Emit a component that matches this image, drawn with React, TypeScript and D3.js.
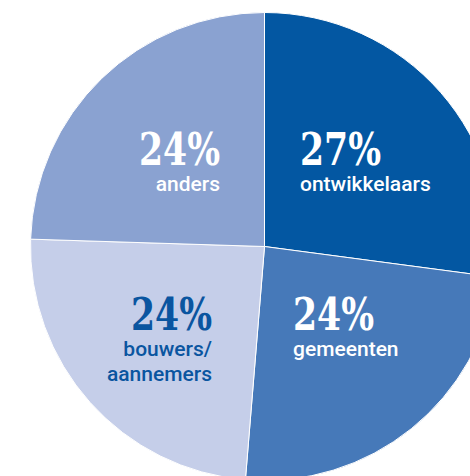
import React from "react";
import * as d3 from "d3";

const categories = ["ontwikkelaars", "gemeenten", "bouwers/aannemers", "anders"];
const values = [27.1, 24.2, 24.2, 24.5];
const percentLabels = ["27%", "24%", "24%", "24%"];
const nameLines = [["ontwikkelaars"], ["gemeenten"], ["bouwers/", "aannemers"], ["anders"]];
const colors = ["#0357a2", "#4679b9", "#c5cee9", "#8aa2d1"];
const textColors = ["#ffffff", "#ffffff", "#0a55a0", "#ffffff"];

const W = 470;
const H = 476;
const cx = 264.5;
const cy = 246.5;
const R = 234;

const labelPos = [
  { x: 300, y: 165, anchor: "start" },
  { x: 293, y: 330, anchor: "start" },
  { x: 212, y: 330, anchor: "end" },
  { x: 220, y: 165, anchor: "end" },
];

export default function App() {
  const pie = d3.pie<number>().sort(null).value((d) => d);
  const arcs = pie(values);
  const arc = d3.arc<d3.PieArcDatum<number>>().innerRadius(0).outerRadius(R);

  return (
    <svg width={W} height={H} style={{ position: "absolute", left: 0, top: 0 }}>
      <rect width={W} height={H} fill="#ffffff" />
      <g transform={`translate(${cx},${cy})`}>
        {arcs.map((a, i) => (
          <path key={categories[i]} d={arc(a) || ""} fill={colors[i]} stroke="#ffffff" strokeWidth={1} />
        ))}
      </g>
      {arcs.map((a, i) => {
        const p = labelPos[i];
        return (
          <g key={"l" + i} fill={textColors[i]} textAnchor={p.anchor as any}>
            <text
              x={p.x}
              y={p.y}
              fontFamily="'DejaVu Serif', serif"
              fontWeight={700}
              fontSize={45}
              textLength={81}
              lengthAdjust="spacingAndGlyphs"
            >
              {percentLabels[i]}
            </text>
            {nameLines[i].map((line, j) => (
              <text
                key={j}
                x={p.x}
                y={p.y + 26 + j * 25}
                fontFamily="Roboto, sans-serif"
                fontWeight={500}
                fontSize={21}
              >
                {line}
              </text>
            ))}
          </g>
        );
      })}
    </svg>
  );
}
